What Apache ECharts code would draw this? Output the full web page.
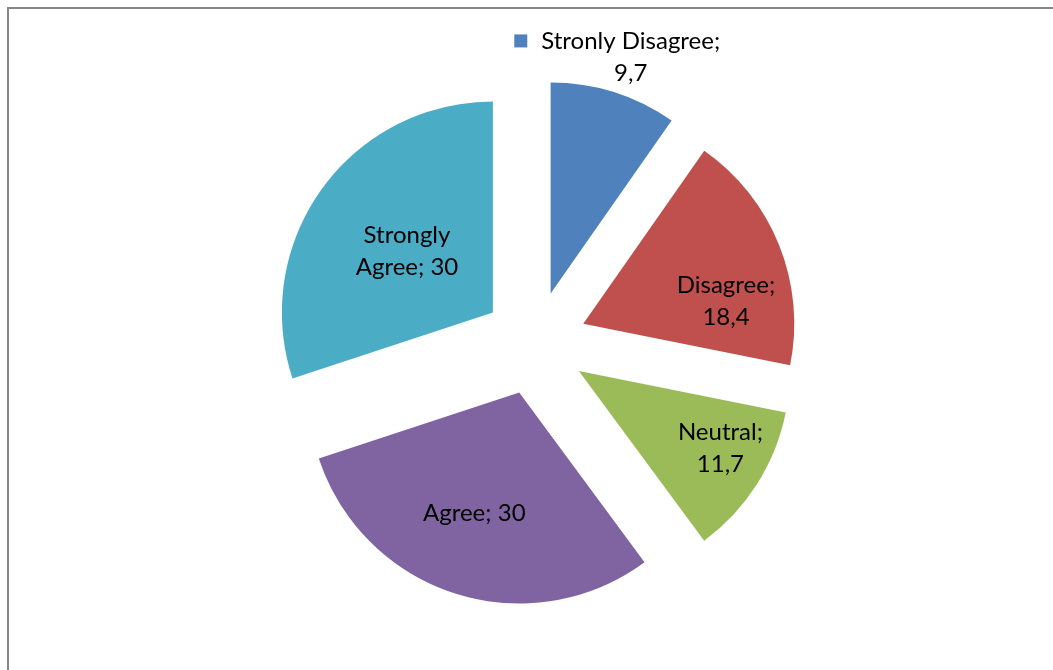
<!DOCTYPE html>
<html>
<head>
<meta charset="utf-8">
<script src="https://cdn.jsdelivr.net/npm/echarts@6/dist/echarts.min.js"></script>
<style>
  html, body { margin: 0; padding: 0; background: #ffffff; }
  #chart { width: 1053px; height: 670px; }
</style>
</head>
<body>
<div id="chart"></div>
<script>
// ---- data ----
const categories = ['Stronly Disagree', 'Disagree', 'Neutral', 'Agree', 'Strongly Agree'];
const values = [9.7, 18.4, 11.7, 30, 30];
const labelNames = ['Stronly Disagree;', 'Disagree;', 'Neutral;', 'Agree;', 'Strongly\nAgree;'];

// ---- styling / layout (not data) ----
const colors = ['#4F81BD', '#C0504D', '#9BBB59', '#8064A2', '#4BACC6'];
const labelShift = [[34, -133], [42, 18], [50, 19], [-12, 17], [2, 2]];
const FONT = 'Lato, "Open Sans", sans-serif';

function fmt(v) { return String(v).replace('.', ','); }

const seriesData = categories.map((c, i) => ({
  name: c,
  value: values[i],
  selected: true,
  itemStyle: { color: colors[i] }
}));

const chart = echarts.init(document.getElementById('chart'), null, { renderer: 'canvas' });
chart.setOption({
  animation: false,
  backgroundColor: '#ffffff',
  graphic: [{
    type: 'rect',
    shape: { x: 8, y: 8, width: 1200, height: 800 },
    style: { fill: null, stroke: '#868686', lineWidth: 2 },
    silent: true
  }],
  series: [{
    type: 'pie',
    center: [535, 343],
    radius: 211,
    startAngle: 90,
    clockwise: true,
    selectedMode: 'multiple',
    selectedOffset: 52,
    avoidLabelOverlap: false,
    emphasis: { disabled: true },
    select: { itemStyle: { borderWidth: 0 } },
    labelLine: { show: false },
    label: {
      show: true,
      position: 'inside',
      color: '#000000',
      fontFamily: FONT,
      fontSize: 24,
      lineHeight: 32,
      align: 'center',
      formatter: function (p) {
        const i = p.dataIndex;
        if (i === 0) {
          return '{sq|}{g|}{t|' + labelNames[0] + '}\n{sp|}{t|' + fmt(values[0]) + '}';
        }
        if (i === 3 || i === 4) return '{t|' + labelNames[i] + ' ' + fmt(values[i]) + '}';
        return '{t|' + labelNames[i] + '}\n{t|' + fmt(values[i]) + '}';
      },
      rich: {
        t: { color: '#000000', fontFamily: FONT, fontSize: 24, lineHeight: 32 },
        sq: { width: 13, height: 13, backgroundColor: '#4F81BD' },
        g: { width: 14 },
        sp: { width: 27 }
      }
    },
    labelLayout: function (p) {
      const s = labelShift[p.dataIndex];
      return { dx: s[0], dy: s[1] };
    },
    data: seriesData
  }]
});
</script>
</body>
</html>
